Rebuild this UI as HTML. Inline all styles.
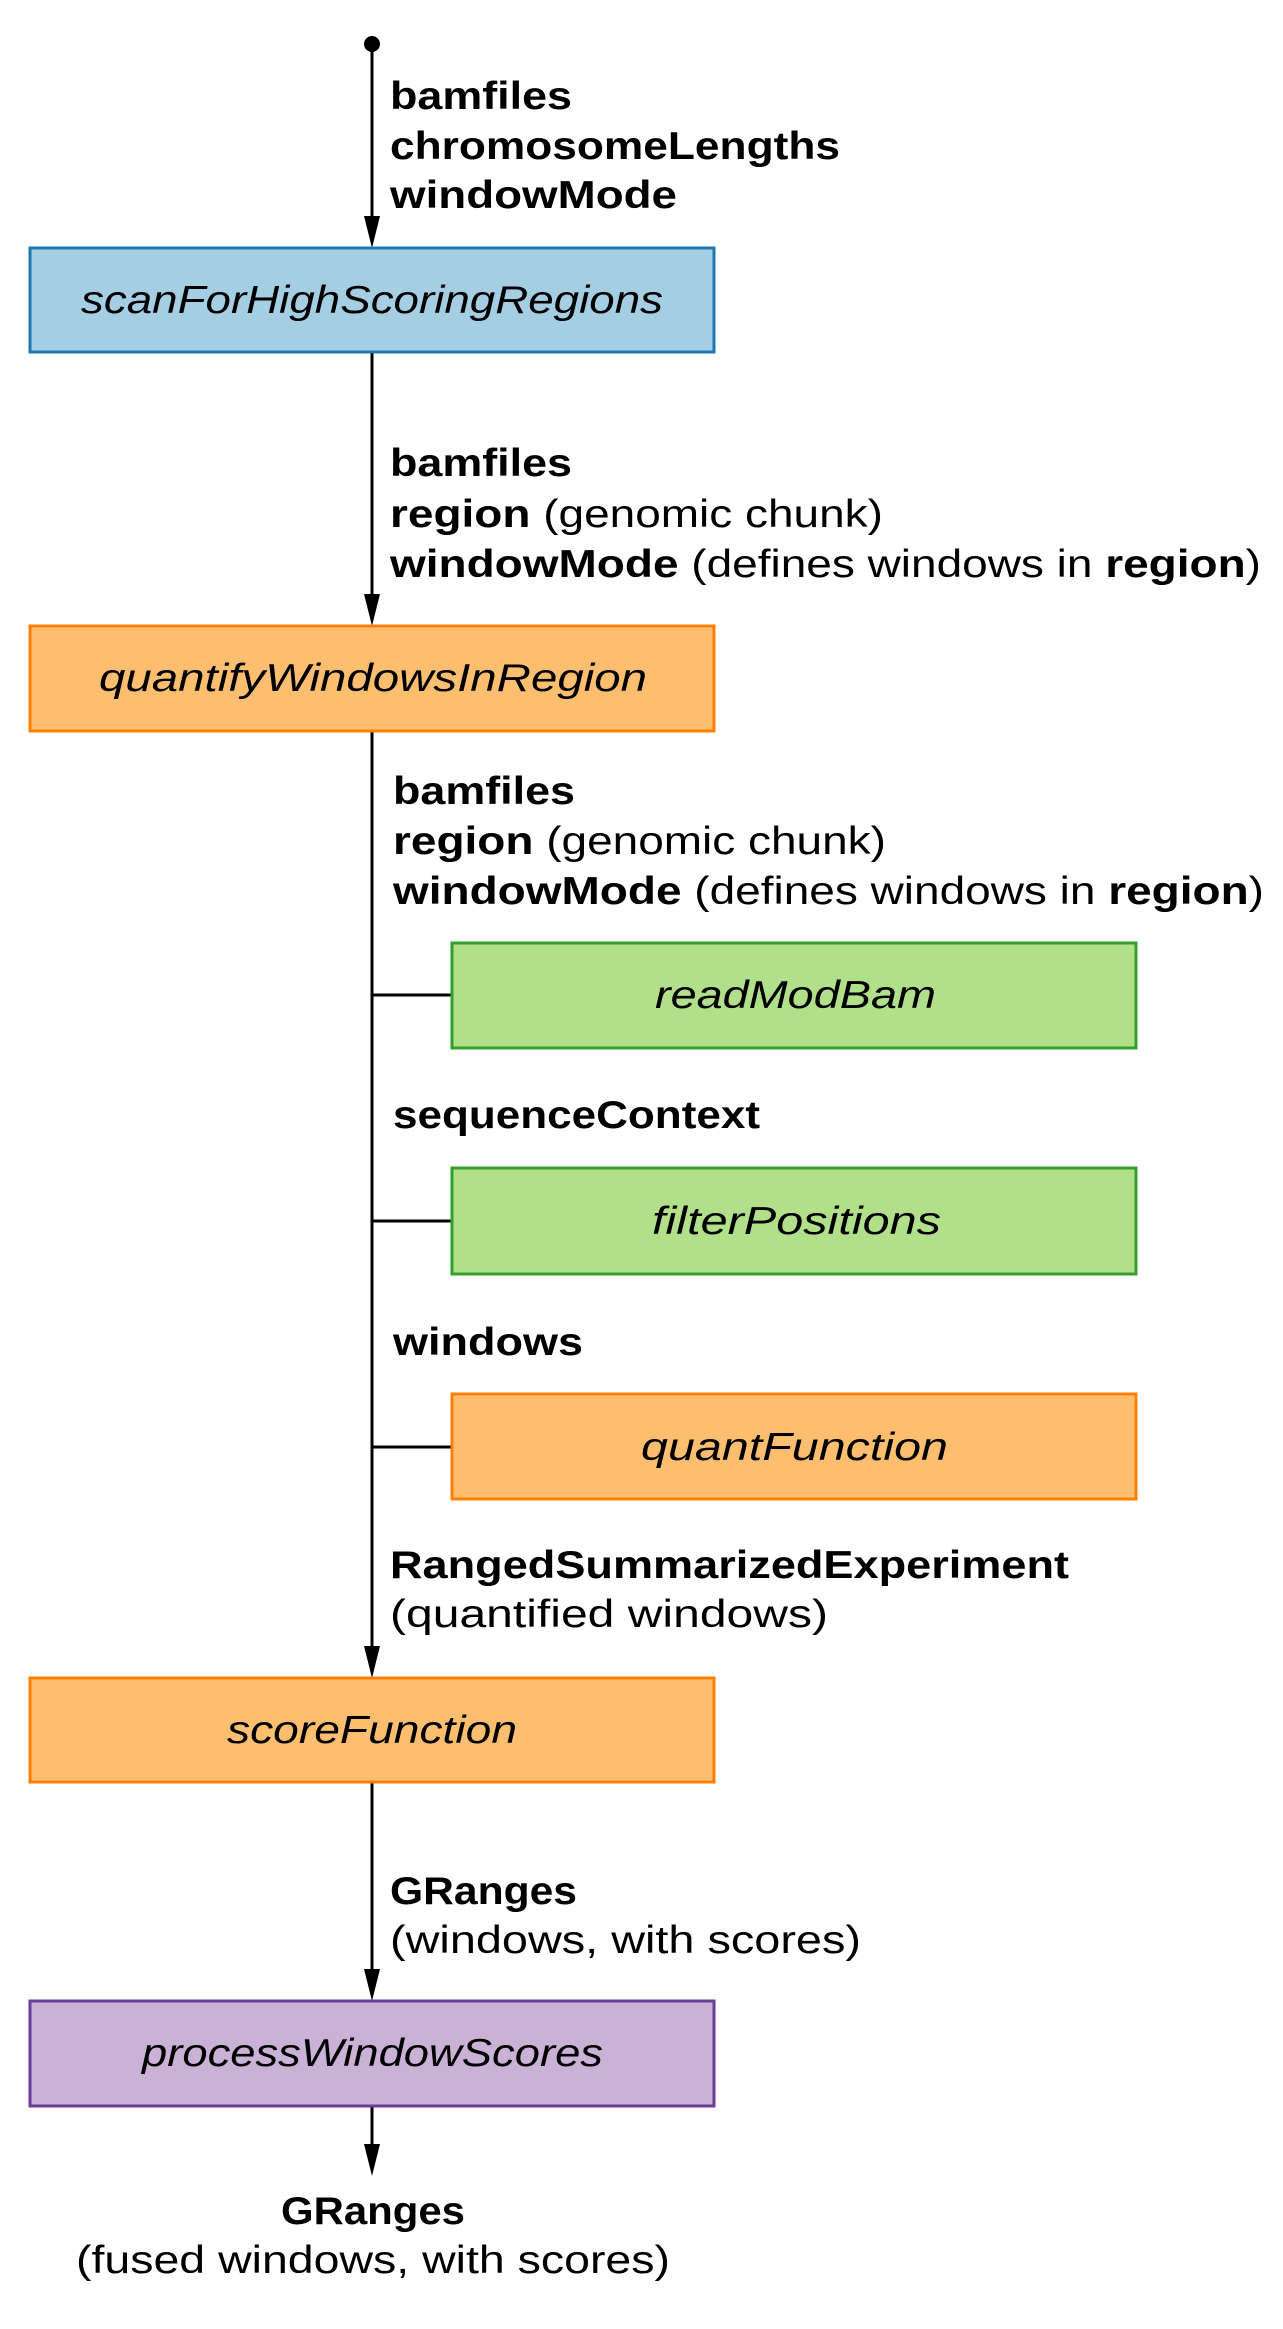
<!DOCTYPE html>
<html><head><meta charset="utf-8"><style>
html,body{margin:0;padding:0;background:#fff;}
svg{display:block;}
text{font-family:"Liberation Sans",sans-serif;font-size:39px;fill:#000;}
.b{font-weight:bold;}
.i{font-style:italic;}
</style></head><body>
<svg width="1283" height="2329" viewBox="0 0 1283 2329" xmlns="http://www.w3.org/2000/svg">
<g stroke="#000" stroke-width="3">
<line x1="372" y1="44" x2="372" y2="222"/>
<line x1="372" y1="351" x2="372" y2="600"/>
<line x1="372" y1="730" x2="372" y2="1652"/>
<line x1="372" y1="1781" x2="372" y2="1975"/>
<line x1="372" y1="2105" x2="372" y2="2150"/>
<line x1="372" y1="995" x2="452" y2="995"/>
<line x1="372" y1="1221" x2="452" y2="1221"/>
<line x1="372" y1="1447" x2="452" y2="1447"/>
</g>
<circle cx="372" cy="44" r="8" fill="#000"/>
<g fill="#000">
<polygon points="364,216 380,216 372,248"/>
<polygon points="364,594 380,594 372,626"/>
<polygon points="364,1646 380,1646 372,1678"/>
<polygon points="364,1969 380,1969 372,2001"/>
<polygon points="364,2144 380,2144 372,2176"/>
</g>
<g stroke-width="3">
<rect x="30" y="248" width="684" height="104" fill="#a6cee3" stroke="#1f78b4"/>
<rect x="30" y="626" width="684" height="105" fill="#fdbf6f" stroke="#ff7f00"/>
<rect x="452" y="943" width="684" height="105" fill="#b2df8a" stroke="#33a02c"/>
<rect x="452" y="1168" width="684" height="106" fill="#b2df8a" stroke="#33a02c"/>
<rect x="452" y="1394" width="684" height="105" fill="#fdbf6f" stroke="#ff7f00"/>
<rect x="30" y="1678" width="684" height="104" fill="#fdbf6f" stroke="#ff7f00"/>
<rect x="30" y="2001" width="684" height="105" fill="#cab2d6" stroke="#6a3d9a"/>
</g>
<g class="i">
<text x="81" y="313" textLength="582" lengthAdjust="spacingAndGlyphs">scanForHighScoringRegions</text>
<text x="99" y="691" textLength="548" lengthAdjust="spacingAndGlyphs">quantifyWindowsInRegion</text>
<text x="655" y="1008" textLength="281" lengthAdjust="spacingAndGlyphs">readModBam</text>
<text x="652" y="1234" textLength="289" lengthAdjust="spacingAndGlyphs">filterPositions</text>
<text x="641" y="1460" textLength="307" lengthAdjust="spacingAndGlyphs">quantFunction</text>
<text x="227" y="1743" textLength="290" lengthAdjust="spacingAndGlyphs">scoreFunction</text>
<text x="142" y="2066" textLength="461" lengthAdjust="spacingAndGlyphs">processWindowScores</text>
</g>
<g>
<text class="b" x="390" y="109" textLength="182" lengthAdjust="spacingAndGlyphs">bamfiles</text>
<text class="b" x="390" y="159" textLength="450" lengthAdjust="spacingAndGlyphs">chromosomeLengths</text>
<text class="b" x="390" y="208" textLength="287" lengthAdjust="spacingAndGlyphs">windowMode</text>

<text class="b" x="390" y="476" textLength="182" lengthAdjust="spacingAndGlyphs">bamfiles</text>
<text x="390" y="527" textLength="493" lengthAdjust="spacingAndGlyphs"><tspan class="b">region</tspan> (genomic chunk)</text>
<text x="390" y="577" textLength="871" lengthAdjust="spacingAndGlyphs"><tspan class="b">windowMode</tspan> (defines windows in <tspan class="b">region</tspan>)</text>

<text class="b" x="393" y="804" textLength="182" lengthAdjust="spacingAndGlyphs">bamfiles</text>
<text x="393" y="854" textLength="493" lengthAdjust="spacingAndGlyphs"><tspan class="b">region</tspan> (genomic chunk)</text>
<text x="393" y="904" textLength="871" lengthAdjust="spacingAndGlyphs"><tspan class="b">windowMode</tspan> (defines windows in <tspan class="b">region</tspan>)</text>

<text class="b" x="393" y="1128" textLength="367" lengthAdjust="spacingAndGlyphs">sequenceContext</text>
<text class="b" x="393" y="1355" textLength="190" lengthAdjust="spacingAndGlyphs">windows</text>
<text class="b" x="390" y="1578" textLength="679" lengthAdjust="spacingAndGlyphs">RangedSummarizedExperiment</text>
<text x="390" y="1627" textLength="438" lengthAdjust="spacingAndGlyphs">(quantified windows)</text>
<text class="b" x="390" y="1904" textLength="187" lengthAdjust="spacingAndGlyphs">GRanges</text>
<text x="390" y="1953" textLength="471" lengthAdjust="spacingAndGlyphs">(windows, with scores)</text>
<text class="b" x="281" y="2224" textLength="184" lengthAdjust="spacingAndGlyphs">GRanges</text>
<text x="76" y="2273" textLength="594" lengthAdjust="spacingAndGlyphs">(fused windows, with scores)</text>
</g>
</svg>
</body></html>
